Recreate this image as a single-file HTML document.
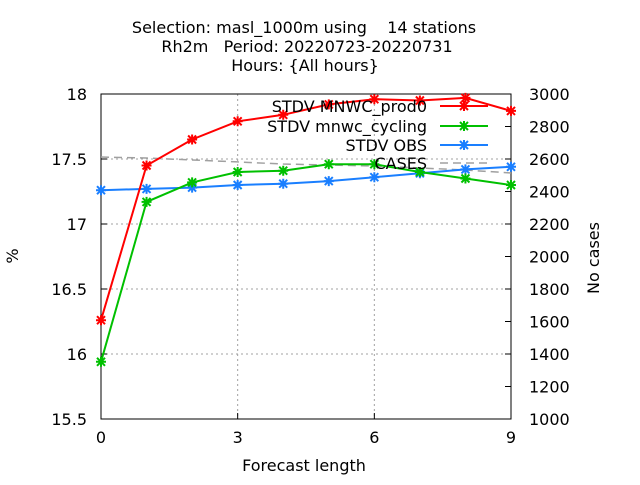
<!DOCTYPE html>
<html><head><meta charset="utf-8"><style>
body{margin:0;background:#fff;}
svg text{font-family:"DejaVu Sans","Liberation Sans",sans-serif;fill:#000;}
</style></head><body>
<svg id="chart" width="640" height="480">
<text x="304" y="33" font-size="16" text-anchor="middle" xml:space="preserve">Selection: masl_1000m using    14 stations</text>
<text x="307" y="52" font-size="16" text-anchor="middle" xml:space="preserve">Rh2m   Period: 20220723-20220731</text>
<text x="305" y="71" font-size="16" text-anchor="middle">Hours: {All hours}</text>
<g id="grid"></g><g id="axes"></g><g id="series"></g><g id="legend"></g>
<text x="304" y="471" font-size="16" text-anchor="middle">Forecast length</text>
<text transform="translate(18,256) rotate(-90)" font-size="16" text-anchor="middle">%</text>
<text transform="translate(599,258) rotate(-90)" font-size="16" text-anchor="middle">No cases</text>
</svg>
<script>
const steps=[0,1,2,3,4,5,6,7,8,9];
const prod0=[16.26,17.45,17.65,17.79,17.84,17.92,17.96,17.95,17.97,17.87];
const cycling=[15.94,17.17,17.32,17.40,17.41,17.46,17.46,17.40,17.35,17.30];
const obs=[17.26,17.27,17.28,17.30,17.31,17.33,17.36,17.39,17.42,17.44];
const cases=[2612,2606,2594,2582,2569,2563,2557,2545,2532,2514];
const xTicks=[0,3,6,9];
const yTicks=[15.5,16,16.5,17,17.5,18];
const y2Ticks=[1000,1200,1400,1600,1800,2000,2200,2400,2600,2800,3000];
const L=101,R=511,T=94,B=419;
const X=v=>L+(v-0)/9*(R-L);
const Y=v=>B-(v-15.5)/2.5*(B-T);
const Y2=v=>B-(v-1000)/2000*(B-T);
const NS='http://www.w3.org/2000/svg';
function mk(p,tag,a){const e=document.createElementNS(NS,tag);for(const k in a)e.setAttribute(k,a[k]);p.appendChild(e);return e;}
const grid=document.getElementById('grid'),axes=document.getElementById('axes'),ser=document.getElementById('series'),leg=document.getElementById('legend');
xTicks.forEach(t=>{
 if(t>0&&t<9){const g=mk(grid,'line',{x1:X(t),x2:X(t),y1:T,y2:B,stroke:'#a0a0a0','stroke-dasharray':'2,3'});
 
 }
 const l=mk(axes,'line',{x1:X(t),x2:X(t),y1:B,y2:B-6,stroke:'#000'});
 
 
 const tx=mk(axes,'text',{x:X(t),y:B+24,'font-size':16,'text-anchor':'middle'});tx.textContent=t;
 
 
});
yTicks.forEach(t=>{
 if(t>15.5&&t<18){const g=mk(grid,'line',{x1:L,x2:R,y1:Y(t),y2:Y(t),stroke:'#a0a0a0','stroke-dasharray':'2,3'});
 
 }
 const l=mk(axes,'line',{x1:L,x2:L+6,y1:Y(t),y2:Y(t),stroke:'#000'});
 
 
 const tx=mk(axes,'text',{x:L-14,y:Y(t)+6,'font-size':16,'text-anchor':'end'});tx.textContent=t;
 
 
});
y2Ticks.forEach(t=>{
 const l=mk(axes,'line',{x1:R-6,x2:R,y1:Y2(t),y2:Y2(t),stroke:'#000'});
 
 
 const tx=mk(axes,'text',{x:R+18,y:Y2(t)+6,'font-size':16});tx.textContent=t;
 
 
});
const frame=mk(axes,'rect',{x:L,y:T,width:R-L,height:B-T,fill:'none',stroke:'#000'});


function star(g,x,y,c){mk(g,'path',{d:`M${x-4} ${y-4}L${x+4} ${y+4}M${x-4} ${y+4}L${x+4} ${y-4}M${x-5} ${y}L${x+5} ${y}M${x} ${y-5}L${x} ${y+5}`,stroke:c,'stroke-width':2});}
const cp=mk(ser,'polyline',{points:steps.map((s,i)=>X(s)+','+Y2(cases[i])).join(' '),fill:'none',stroke:'#a0a0a0','stroke-width':1.5,'stroke-dasharray':'8,5'});


const defs=[['series-stdv-obs',obs,'#1a7fff'],['series-stdv-mnwc-cycling',cycling,'#00c000'],['series-stdv-mnwc-prod0',prod0,'#ff0000']];
defs.forEach(([n,d,c])=>{
 const g=mk(ser,'g',{});
 
 
 mk(g,'polyline',{points:steps.map((s,i)=>X(s)+','+Y(d[i])).join(' '),fill:'none',stroke:c,'stroke-width':2});
 steps.forEach((s,i)=>star(g,X(s),Y(d[i]),c));
});
const items=[['STDV MNWC_prod0','#ff0000',false,106],['STDV mnwc_cycling','#00c000',false,126],['STDV OBS','#1a7fff',false,145],['CASES','#a0a0a0',true,163]];
items.forEach(([lab,c,dash,y])=>{
 const g=mk(leg,'g',{});
 
 
 const t=mk(g,'text',{x:427,y:y+6,'font-size':16,'text-anchor':'end'});t.textContent=lab;
 mk(g,'line',{x1:440,x2:488,y1:y,y2:y,stroke:c,'stroke-width':dash?1.5:2,'stroke-dasharray':dash?'8,5':'none'});
 if(!dash)star(g,464,y,c);
});
</script>
</body></html>
